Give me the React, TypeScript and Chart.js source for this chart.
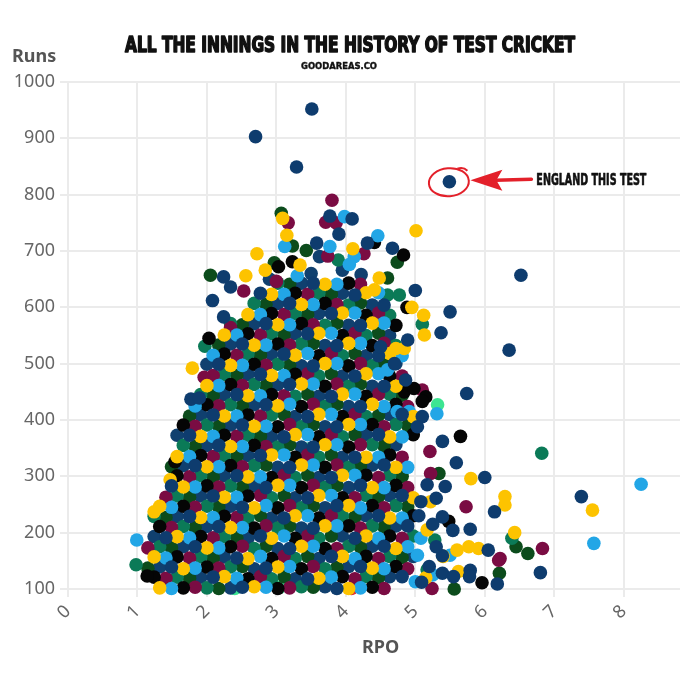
import { useEffect, useRef } from "react";
import { Chart, registerables } from "chart.js";

Chart.register(...registerables);

const TITLE = "ALL THE INNINGS IN THE HISTORY OF TEST CRICKET";
const SUBTITLE = "GOODAREAS.CO";
const Y_TITLE = "Runs";
const X_TITLE = "RPO";
const NOTE = "ENGLAND THIS TEST";

const X_MIN = 0;
const X_MAX = 9;
const Y_MIN = 100;
const Y_MAX = 1000;

// [runs per over, runs]
const england: number[][] = [
  [2.51,103],[3.87,101],[2.09,121],[3.45,118],[4.81,122],[1.49,139],[2.85,137],[4.21,140],[2.43,155],[3.79,158],
  [1.83,175],[3.19,172],[4.55,176],[1.41,191],[2.77,194],[4.13,190],[2.17,211],[3.53,208],[4.89,212],[1.75,229],
  [3.11,226],[4.47,230],[2.51,245],[3.87,248],[2.09,265],[3.45,262],[4.81,266],[1.49,283],[2.85,280],[4.21,284],
  [2.43,301],[3.79,298],[1.83,319],[3.19,316],[4.55,320],[2.77,337],[4.13,334],[2.17,355],[3.53,352],[1.75,373],
  [3.11,370],[4.47,374],[2.51,391],[3.87,388],[2.09,409],[3.45,406],[4.81,410],[2.85,427],[4.21,424],[2.43,445],
  [3.79,442],[3.19,463],[4.55,460],[2.77,481],[4.13,478],[2.17,499],[3.53,496],[3.11,517],[4.47,514],[2.51,535],
  [3.87,532],[3.45,553],[2.85,571],[4.21,568],[3.79,589],[3.19,607],[4.55,604],[2.77,625],[4.13,622],[3.53,643],
  [3.51,952],[2.70,903],[3.29,849],[3.77,762],[4.09,757],[3.90,730],[4.31,714],[3.58,714],[4.67,705],[2.24,654],
  [2.34,636],[2.08,612],[2.24,583],[5.00,630],[5.50,592],[5.37,555],[6.52,657],[6.35,524],[5.74,447],[5.39,362],
  [5.59,324],[6.00,298],[7.39,264],[6.14,237],[5.79,206],[5.54,204],[6.80,129],[6.18,109],[5.79,133],[5.39,128],
  [5.55,122],[6.05,169],[5.17,285],[5.43,282],[5.30,261],[5.08,255],[5.39,228],[4.89,542],[4.50,530],[4.70,500],
  [4.86,471],[5.10,406],[5.03,388],[5.39,159],[1.77,437],[1.89,439],[5.78,122],[5.09,112],[5.20,140],[5.30,175],
  [5.05,230],[5.25,215],
];

const englandThisTest: number[][] = [[5.49, 823]];

const australia: number[][] = [
  [1.32,102],[2.68,104],[4.04,101],[2.25,122],[3.61,119],[1.66,136],[3.02,139],[4.38,137],[1.24,157],[2.59,154],
  [3.95,158],[2.00,173],[3.36,176],[4.72,172],[1.57,193],[2.93,190],[4.29,194],[2.34,209],[3.70,212],[1.91,227],
  [3.27,230],[4.63,226],[1.32,247],[2.68,244],[4.04,248],[2.25,263],[3.61,266],[4.97,262],[1.66,281],[3.02,284],
  [4.38,280],[2.59,299],[3.95,302],[2.00,317],[3.36,320],[4.72,316],[1.57,335],[2.93,338],[4.29,334],[2.34,353],
  [3.70,356],[1.91,371],[3.27,374],[4.63,370],[2.68,389],[4.04,392],[2.25,407],[3.61,410],[4.97,406],[3.02,425],
  [4.38,428],[2.59,443],[3.95,446],[2.00,461],[3.36,464],[4.72,460],[2.93,479],[4.29,482],[2.34,497],[3.70,500],
  [3.27,515],[4.63,518],[2.68,533],[4.04,536],[2.25,551],[3.61,554],[3.02,569],[4.38,572],[2.59,587],[3.95,590],
  [3.36,605],[2.93,623],[4.29,626],[3.70,641],
  [3.09,758],[3.15,728],[5.01,736],[2.72,695],[4.10,704],[3.34,675],[2.84,666],[2.56,656],[4.48,652],[4.41,631],
  [5.12,586],[5.13,551],[4.72,527],[4.84,527],[5.80,296],[6.29,264],[6.29,249],[7.55,240],[6.43,200],[5.62,131],
  [5.91,172],[5.40,158],[5.77,175],[5.60,169],[5.22,255],[5.17,205],[1.24,237],[1.47,294],[1.79,492],[4.95,600],
  [5.15,120],
];

const india: number[][] = [
  [1.49,101],[2.85,103],[4.21,102],[2.43,119],[3.79,121],[1.83,137],[3.19,140],[4.55,136],[1.41,155],[2.77,158],
  [4.13,154],[2.17,173],[3.53,176],[4.89,175],[1.75,191],[3.11,194],[4.47,190],[2.51,209],[3.87,212],[2.09,227],
  [3.45,230],[4.81,226],[1.49,245],[2.85,248],[4.21,244],[2.43,263],[3.79,266],[1.83,281],[3.19,284],[4.55,280],
  [2.77,299],[4.13,302],[2.17,317],[3.53,320],[4.89,316],[1.75,335],[3.11,338],[4.47,334],[2.51,353],[3.87,356],
  [2.09,371],[3.45,374],[4.81,370],[2.85,389],[4.21,392],[2.43,407],[3.79,410],[1.83,425],[3.19,428],[4.55,424],
  [2.77,443],[4.13,446],[2.17,461],[3.53,464],[3.11,479],[4.47,482],[2.51,497],[3.87,500],[2.09,515],[3.45,518],
  [4.81,514],[2.85,533],[4.21,536],[2.43,551],[3.79,554],[3.19,569],[4.55,572],[2.77,587],[4.13,590],[3.53,605],
  [3.11,623],[4.47,626],[3.87,641],
  [3.98,761],[4.46,727],[3.77,708],[3.12,708],[4.12,690],[5.31,411],[4.74,415],[4.91,415],[4.60,489],[8.25,286],
  [7.57,181],[0.99,187],[5.08,190],[5.50,160],[5.03,160],[5.00,113],[3.30,656],[4.05,676],[5.25,125],
];

const newZealand: number[][] = [
  [1.66,102],[3.02,101],[4.38,103],[1.24,121],[2.59,118],[3.95,122],[2.00,139],[3.36,136],[4.72,140],[1.57,157],
  [2.93,154],[4.29,158],[2.34,175],[3.70,172],[1.91,193],[3.27,190],[4.63,194],[1.32,211],[2.68,208],[4.04,212],
  [2.25,229],[3.61,226],[4.97,230],[1.66,247],[3.02,244],[4.38,248],[2.59,265],[3.95,262],[2.00,283],[3.36,280],
  [4.72,284],[1.57,301],[2.93,298],[4.29,302],[2.34,319],[3.70,316],[1.91,337],[3.27,334],[4.63,338],[2.68,355],
  [4.04,352],[2.25,373],[3.61,370],[4.97,374],[1.66,391],[3.02,388],[4.38,392],[2.59,409],[3.95,406],[2.00,427],
  [3.36,424],[4.72,428],[2.93,445],[4.29,442],[2.34,463],[3.70,460],[3.27,481],[4.63,478],[2.68,499],[4.04,496],
  [2.25,517],[3.61,514],[3.02,535],[4.38,532],[2.59,553],[3.95,550],[3.36,571],[4.72,568],[2.93,589],[4.29,586],
  [3.70,607],[3.27,625],[4.04,643],
  [4.41,715],[4.83,693],[3.23,681],[3.03,672],[2.03,545],[5.65,371],[5.48,220],[5.96,111],[1.14,123],[1.54,326],
  [4.84,450],[4.98,456],[5.15,441],[5.10,433],[4.88,600],
];

const westIndies: number[][] = [
  [1.83,103],[3.19,102],[4.55,101],[1.41,119],[2.77,122],[4.13,118],[2.17,137],[3.53,140],[4.89,136],[1.75,155],
  [3.11,158],[4.47,154],[1.15,173],[2.51,176],[3.87,172],[2.09,191],[3.45,194],[4.81,190],[1.49,209],[2.85,212],
  [4.21,208],[2.43,227],[3.79,230],[1.83,245],[3.19,248],[4.55,244],[1.41,263],[2.77,266],[4.13,262],[2.17,281],
  [3.53,284],[4.89,280],[1.75,299],[3.11,302],[4.47,298],[2.51,317],[3.87,320],[2.09,335],[3.45,338],[4.81,334],
  [2.85,353],[4.21,356],[2.43,371],[3.79,374],[1.83,389],[3.19,392],[4.55,388],[2.77,407],[4.13,410],[2.17,425],
  [3.53,428],[4.89,424],[3.11,443],[4.47,446],[2.51,461],[3.87,464],[2.09,479],[3.45,482],[4.81,478],[2.85,497],
  [4.21,500],[2.43,515],[3.79,518],[3.19,533],[4.55,536],[2.77,551],[4.13,554],[3.53,569],[3.11,587],[4.47,590],
  [3.87,605],[3.45,623],[4.21,641],
  [3.80,790],[3.17,750],[3.71,751],[3.86,750],[4.26,695],[3.74,691],[2.53,629],[2.34,564],[5.21,344],[5.73,246],
  [6.83,172],[6.22,154],[5.24,101],[1.96,476],[6.20,151],[5.10,453],[5.22,305],[3.00,646],
];

const southAfrica: number[][] = [
  [2.00,102],[3.36,104],[1.57,121],[2.93,118],[4.29,122],[2.34,139],[3.70,136],[1.91,157],[3.27,154],[4.63,158],
  [1.32,175],[2.68,172],[4.04,176],[2.25,193],[3.61,190],[4.97,194],[1.66,211],[3.02,208],[4.38,212],[1.24,229],
  [2.59,226],[3.95,230],[2.00,247],[3.36,244],[4.72,248],[1.57,265],[2.93,262],[4.29,266],[2.34,283],[3.70,280],
  [1.91,301],[3.27,298],[4.63,302],[2.68,319],[4.04,316],[2.25,337],[3.61,334],[1.66,355],[3.02,352],[4.38,356],
  [2.59,373],[3.95,370],[2.00,391],[3.36,388],[4.72,392],[2.93,409],[4.29,406],[2.34,427],[3.70,424],[1.91,445],
  [3.27,442],[4.63,446],[2.68,463],[4.04,460],[2.25,481],[3.61,478],[3.02,499],[4.38,496],[2.59,517],[3.95,514],
  [3.36,535],[4.72,532],[2.93,553],[4.29,550],[2.34,571],[3.70,568],[3.27,589],[4.63,586],[2.68,607],[4.04,604],
  [3.61,625],[3.02,643],
  [3.89,684],[4.60,622],[4.77,622],[5.10,570],[6.82,341],[6.39,190],[0.98,143],[1.97,531],[5.28,187],[5.17,134],
];

const pakistan: number[][] = [
  [2.17,101],[3.53,103],[1.75,119],[3.11,122],[4.47,120],[1.15,137],[2.51,140],[3.87,138],[2.09,155],[3.45,158],
  [4.81,156],[1.49,173],[2.85,176],[4.21,174],[2.43,191],[3.79,194],[1.83,209],[3.19,212],[4.55,210],[1.41,227],
  [2.77,230],[4.13,228],[2.17,245],[3.53,248],[4.89,246],[1.75,263],[3.11,266],[4.47,264],[2.51,281],[3.87,284],
  [2.09,299],[3.45,302],[4.81,300],[1.49,317],[2.85,320],[4.21,318],[2.43,335],[3.79,338],[1.83,353],[3.19,356],
  [4.55,354],[2.77,371],[4.13,374],[2.17,389],[3.53,392],[4.89,390],[1.75,407],[3.11,410],[4.47,408],[2.51,425],
  [3.87,428],[2.09,443],[3.45,446],[4.81,444],[2.85,461],[4.21,464],[2.43,479],[3.79,482],[3.19,497],[4.55,500],
  [2.77,515],[4.13,518],[2.17,533],[3.53,536],[3.11,551],[4.47,554],[2.51,569],[3.87,572],[3.45,587],[2.85,605],
  [4.21,608],[3.79,623],[3.19,641],
  [3.07,767],[3.23,709],[3.43,701],[2.97,679],[2.05,657],[4.74,680],[4.60,652],[6.62,163],[6.45,175],[6.21,128],
  [5.56,100],[5.34,305],
];

const sriLanka: number[][] = [
  [2.34,102],[3.70,104],[1.91,121],[3.27,118],[4.63,122],[1.32,139],[2.68,136],[4.04,140],[2.25,157],[3.61,154],
  [4.97,158],[1.66,175],[3.02,172],[4.38,176],[1.24,193],[2.59,190],[3.95,194],[2.00,211],[3.36,208],[4.72,212],
  [1.57,229],[2.93,226],[4.29,230],[2.34,247],[3.70,244],[1.91,265],[3.27,262],[4.63,266],[2.68,283],[4.04,280],
  [2.25,301],[3.61,298],[1.66,319],[3.02,316],[4.38,320],[2.59,337],[3.95,334],[2.00,355],[3.36,352],[4.72,356],
  [1.57,373],[2.93,370],[4.29,374],[2.34,391],[3.70,388],[1.91,409],[3.27,406],[4.63,410],[2.68,427],[4.04,424],
  [2.25,445],[3.61,442],[3.02,463],[4.38,460],[2.59,481],[3.95,478],[2.00,499],[3.36,496],[4.72,500],[2.93,517],
  [4.29,514],[2.34,535],[3.70,532],[3.27,553],[4.63,550],[2.68,571],[4.04,568],[3.61,589],[3.02,607],[4.38,604],
  [3.95,625],[3.36,643],
  [3.50,660],[3.95,666],[4.22,658],[3.62,690],[2.90,650],
];

const ireland: number[][] = [
  [5.32,427],[2.40,101],[3.05,103],[4.27,141],[2.12,262],[3.48,349],[2.90,190],[3.90,300],
];

const zimbabwe: number[][] = [
  [4.08,101],[2.95,221],
];

const SERIES = [
  { label: "England", color: "#0e3c6e", data: england },
  { label: "Australia", color: "#fdc300", data: australia },
  { label: "India", color: "#22a6e6", data: india },
  { label: "New Zealand", color: "#050505", data: newZealand },
  { label: "West Indies", color: "#7a0c43", data: westIndies },
  { label: "South Africa", color: "#0b7a57", data: southAfrica },
  { label: "Pakistan", color: "#0c4c1c", data: pakistan },
  { label: "Sri Lanka", color: "#10406f", data: sriLanka },
  { label: "Ireland", color: "#3de592", data: ireland },
  { label: "Zimbabwe", color: "#e23434", data: zimbabwe },
  { label: "England this Test", color: "#0e3c6e", data: englandThisTest },
];

const NARROW = '"Liberation Sans Narrow", "DejaVu Sans Condensed", "Liberation Sans", sans-serif';

function fitText(
  ctx: CanvasRenderingContext2D,
  text: string,
  cx: number,
  baseline: number,
  width: number,
  font: string,
  color: string,
  stroke: number
) {
  ctx.save();
  ctx.font = font;
  const w = ctx.measureText(text).width;
  ctx.translate(cx, baseline);
  ctx.scale(width / w, 1);
  ctx.textAlign = "center";
  ctx.textBaseline = "alphabetic";
  ctx.fillStyle = color;
  ctx.fillText(text, 0, 0);
  if (stroke > 0) {
    ctx.strokeStyle = color;
    ctx.lineWidth = stroke;
    ctx.lineJoin = "round";
    ctx.strokeText(text, 0, 0);
  }
  ctx.restore();
}

const overlayPlugin = {
  id: "overlay",
  afterDraw(chart: any) {
    const ctx: CanvasRenderingContext2D = chart.ctx;
    fitText(ctx, TITLE, 350, 52, 450, `bold 21px ${NARROW}`, "#111111", 1.5);
    fitText(ctx, SUBTITLE, 339, 69, 76, `bold 9.5px ${NARROW}`, "#111111", 0.4);

    ctx.save();
    ctx.font = 'bold 18px "Noto Sans", "Open Sans", sans-serif';
    ctx.fillStyle = "#555555";
    ctx.textAlign = "left";
    ctx.textBaseline = "alphabetic";
    ctx.fillText(Y_TITLE, 12, 61.5);
    ctx.restore();

    const [hx, hy] = englandThisTest[0];
    const px = chart.scales.x.getPixelForValue(hx);
    const py = chart.scales.y.getPixelForValue(hy);
    const red = "#e3202a";
    ctx.save();
    ctx.strokeStyle = red;
    ctx.lineWidth = 2;
    ctx.beginPath();
    ctx.ellipse(px - 0.5, py + 0.5, 20, 14, -0.08, 0, Math.PI * 2);
    ctx.stroke();
    ctx.beginPath();
    ctx.moveTo(px + 8, py - 13);
    ctx.quadraticCurveTo(px + 14, py - 15, px + 18, py - 11);
    ctx.stroke();

    ctx.fillStyle = red;
    ctx.beginPath();
    ctx.moveTo(px + 21, py - 1.5);
    ctx.lineTo(px + 53, py - 12);
    ctx.lineTo(px + 47, py - 1.5);
    ctx.lineTo(px + 53, py + 9);
    ctx.closePath();
    ctx.fill();
    ctx.lineWidth = 3.5;
    ctx.lineCap = "round";
    ctx.beginPath();
    ctx.moveTo(px + 46, py - 1.5);
    ctx.lineTo(px + 82, py - 2.5);
    ctx.stroke();
    ctx.restore();

    fitText(ctx, NOTE, px + 142, py + 3.5, 110, `bold 15px ${NARROW}`, "#111111", 0.6);
  },
};

export default function App() {
  const canvasRef = useRef<HTMLCanvasElement | null>(null);

  useEffect(() => {
    const canvas = canvasRef.current;
    if (!canvas) return;
    const gridColor = "#ebebeb";
    const tickFont = { family: '"Noto Sans", "Open Sans", sans-serif', size: 18 };
    const chart = new Chart(canvas, {
      type: "scatter",
      data: {
        datasets: SERIES.map((s) => ({
          label: s.label,
          data: s.data.map(([x, y]) => ({ x, y })),
          backgroundColor: s.color,
          borderColor: s.color,
          borderWidth: 0,
          pointRadius: 6.8,
          pointHoverRadius: 6.8,
          clip: false as any,
        })),
      },
      options: {
        animation: false,
        responsive: true,
        maintainAspectRatio: false,
        events: [],
        layout: { padding: { top: 82, right: 2, bottom: 0, left: 0 } },
        plugins: {
          legend: { display: false },
          tooltip: { enabled: false },
          title: { display: false },
        },
        scales: {
          x: {
            type: "linear",
            min: X_MIN,
            max: X_MAX,
            ticks: {
              stepSize: 1,
              minRotation: 45,
              maxRotation: 45,
              color: "#666666",
              font: tickFont,
              padding: 4,
              callback: (v: any) => String(v),
            },
            grid: { color: gridColor, lineWidth: 2, tickLength: 8 },
            border: { color: gridColor, width: 2 },
            title: {
              display: true,
              text: X_TITLE,
              color: "#555555",
              font: { family: '"Noto Sans", "Open Sans", sans-serif', size: 18, weight: "bold" },
              padding: { top: 0, bottom: 21 },
            },
            afterFit: (s: any) => {
              s.height = 91;
              s.paddingLeft = 0;
              s.paddingRight = 0;
            },
          },
          y: {
            type: "linear",
            min: Y_MIN,
            max: Y_MAX,
            ticks: {
              stepSize: 100,
              color: "#666666",
              font: tickFont,
              padding: 5,
              callback: (v: any) => String(v),
            },
            grid: { color: gridColor, lineWidth: 2, tickLength: 8 },
            border: { color: gridColor, width: 2 },
            afterFit: (s: any) => {
              s.width = 68;
              s.paddingTop = 0;
              s.paddingBottom = 0;
            },
          },
        },
      },
      plugins: [overlayPlugin],
    });
    return () => chart.destroy();
  }, []);

  return (
    <div
      style={{
        position: "fixed",
        left: 0,
        top: 0,
        width: 680,
        height: 680,
        overflow: "hidden",
        background: "#ffffff",
      }}
    >
      <div style={{ position: "relative", width: 700, height: 680 }}>
        <canvas ref={canvasRef} />
      </div>
    </div>
  );
}
